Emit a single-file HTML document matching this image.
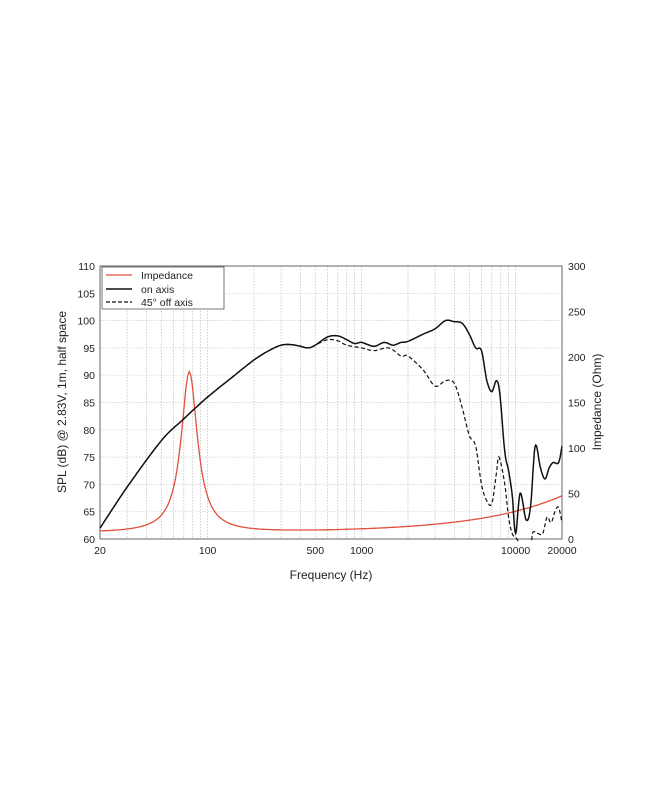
<!DOCTYPE html><html><head><meta charset="utf-8"><style>body{margin:0;background:#fff}svg{display:block;font-family:"Liberation Sans",sans-serif}</style></head><body>
<svg id="s" width="650" height="794" xmlns="http://www.w3.org/2000/svg"></svg>
<script>
const L=100,R=562,T=266,B=539;
const X=f=>L+(R-L)*Math.log10(f/20)/3;
const Yd=d=>B-(d-60)*(B-T)/50;
const Yo=o=>B-o*(B-T)/300;
let h='';
for(let dec=10;dec<=10000;dec*=10)for(let m=1;m<10;m++){const f=dec*m;if(f<=20||f>=20000)continue;h+=`<line x1="${X(f)}" y1="${T}" x2="${X(f)}" y2="${B}" stroke="#bbb" stroke-width="0.7" stroke-dasharray="1.5,1.5"/>`;}
for(let d=65;d<110;d+=5)h+=`<line x1="${L}" y1="${Yd(d)}" x2="${R}" y2="${Yd(d)}" stroke="#ccc" stroke-width="0.7" stroke-dasharray="1.5,1.5"/>`;
h+=`<rect x="${L}" y="${T}" width="${R-L}" height="${B-T}" fill="none" stroke="#666" stroke-width="1"/>`;
for(let d=60;d<=110;d+=5){h+=`<text x="${L-5}" y="${Yd(d)+4}" font-size="10.5" text-anchor="end" fill="#222">${d}</text>`;}
for(let o=0;o<=300;o+=50){h+=`<text x="${R+6}" y="${Yo(o)+4}" font-size="10.5" fill="#222">${o}</text>`;}
[[20,'20'],[100,'100'],[500,'500'],[1000,'1000'],[10000,'10000'],[20000,'20000']].forEach(([f,t])=>h+=`<text x="${X(f)}" y="${B+15}" font-size="10.5" text-anchor="middle" fill="#222">${t}</text>`);
h+=`<text x="331" y="579" font-size="12" text-anchor="middle" fill="#222">Frequency (Hz)</text>`;
h+=`<text transform="translate(66,402) rotate(-90)" font-size="12" text-anchor="middle" fill="#222">SPL (dB) @ 2.83V, 1m, half space</text>`;
h+=`<text transform="translate(601,402) rotate(-90)" font-size="12" text-anchor="middle" fill="#222">Impedance (Ohm)</text>`;
function cr(pts){let out=[];for(let i=0;i<pts.length-1;i++){const p0=pts[Math.max(0,i-1)],p1=pts[i],p2=pts[i+1],p3=pts[Math.min(pts.length-1,i+2)];for(let t=0;t<1;t+=0.1){const t2=t*t,t3=t2*t;const c=(a,b,c_,d)=>0.5*(2*b+(-a+c_)*t+(2*a-5*b+4*c_-d)*t2+(-a+3*b-3*c_+d)*t3);out.push([c(p0[0],p1[0],p2[0],p3[0]),c(p0[1],p1[1],p2[1],p3[1])]);}}out.push(pts[pts.length-1]);return 'M'+out.map(p=>p[0].toFixed(1)+','+p[1].toFixed(1)).join('L');}
const P=a=>a.map(([f,d])=>[X(f),Yd(d)]);
const low=[[20,62],[30,69.5],[50,78],[70,82],[100,86],[150,90],[200,92.8],[250,94.5],[300,95.5],[350,95.6],[400,95.3],[450,95],[500,95.5]];
const on=low.concat([[600,97],[700,97.2],[800,96.5],[900,95.8],[1000,96],[1200,95.3],[1400,96],[1600,95.5],[1800,96],[2000,96.2],[2500,97.5],[3000,98.5],[3500,100],[4000,99.8],[4500,99.5],[5000,97.5],[5500,95],[6000,94.5],[6500,89],[7000,87],[7500,89],[7900,86.5],[8500,76],[9000,72.5],[9500,68],[10000,61],[10700,68.4],[11700,63.5],[12500,66],[13400,77],[14500,73],[15500,71],[16500,73],[17500,74],[19000,74],[20000,77]]);
const off=low.concat([[600,96.5],[700,96.3],[800,95.5],[1000,95],[1200,94.5],[1500,95],[1800,93.5],[2000,93.5],[2500,91],[3000,88],[3500,89],[4000,88.5],[4500,84],[5000,79],[5500,77],[6000,70],[6500,67],[7000,66.5],[7500,72],[7800,75],[8500,70],[9000,64],[9500,61],[10000,60.3],[10400,59.6]]);
const off2=[[12700,59.8],[13000,61.3],[14000,61],[15000,61],[16000,64],[17000,63],[18000,65],[19000,65.8],[20000,63]];
let imp=[];for(let i=0;i<=300;i++){const f=20*Math.pow(1000,i/300);const q=3.4,f0=76,u=f/f0-f0/f;const z=7.5+176/(1+q*q*u*u)+40*Math.pow(f/20000,0.8);imp.push(`${X(f).toFixed(1)},${Yo(z).toFixed(1)}`);}
h+=`<path d="M${imp.join('L')}" fill="none" stroke="#e0503c" stroke-width="1.3"/>`;
h+=`<path d="${cr(P(off))}" fill="none" stroke="#111" stroke-width="1.2" stroke-dasharray="4,2.5"/>`;
h+=`<path d="${cr(P(off2))}" fill="none" stroke="#111" stroke-width="1.2" stroke-dasharray="4,2.5"/>`;
h+=`<path d="${cr(P(on))}" fill="none" stroke="#111" stroke-width="1.5"/>`;
h+=`<rect x="102" y="267" width="122" height="42" fill="#fff" stroke="#555" stroke-width="0.8"/>`;
h+=`<line x1="106" y1="275" x2="132" y2="275" stroke="#e0503c" stroke-width="1.3"/><text x="141" y="279" font-size="10.5" fill="#222">Impedance</text>`;
h+=`<line x1="106" y1="289" x2="132" y2="289" stroke="#111" stroke-width="1.5"/><text x="141" y="293" font-size="10.5" fill="#222">on axis</text>`;
h+=`<line x1="106" y1="302" x2="132" y2="302" stroke="#111" stroke-width="1.2" stroke-dasharray="4,2"/><text x="141" y="306" font-size="10.5" fill="#222">45° off axis</text>`;
document.getElementById('s').innerHTML=h;
</script></body></html>
